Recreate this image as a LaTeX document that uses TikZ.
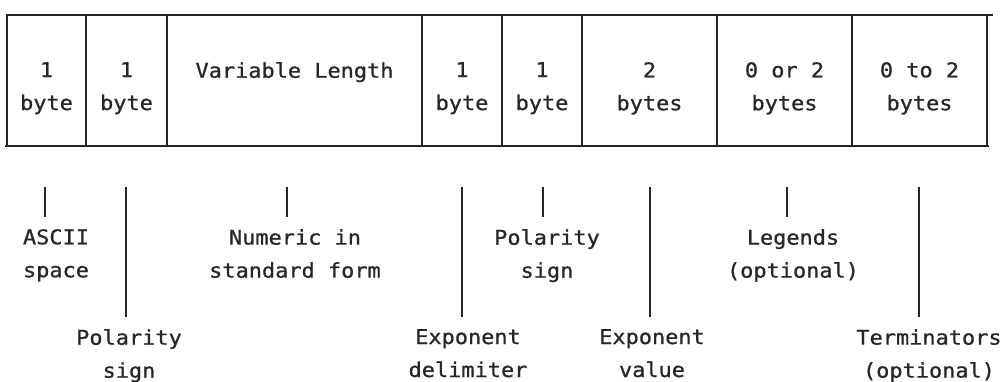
\documentclass[tikz,border=0pt]{standalone}
\usepackage{fontspec}
\newfontfamily\printfont[FakeStretch=1.08,FakeBold=0.8]{DejaVu Sans Mono}
\usetikzlibrary{positioning,calc}
\begin{document}
\begin{tikzpicture}[
  x=1pt, y=-1pt,
  font=\printfont\fontsize{20.3}{33}\selectfont,
  cell/.style={draw=black!85, line width=1.4pt, minimum height=131pt, inner sep=0pt, outer sep=0pt},
  rule/.style={line width=2.4pt, draw=black!85},
  tick/.style={line width=1.6pt, draw=black!85},
  field/.style={align=center, inner sep=0pt, anchor=north, text=black!85},
  note/.style={align=center, inner xsep=0pt, inner ysep=12pt, anchor=north, text=black!85}
]
  \useasboundingbox (0,0) rectangle (1005,381);

  \node[cell, minimum width=79pt, anchor=north west] (c1) at (7,15) {};
  \node[cell, minimum width=81pt, right=0pt of c1] (c2) {};
  \node[cell, minimum width=255pt, right=0pt of c2] (c3) {};
  \node[cell, minimum width=80pt, right=0pt of c3] (c4) {};
  \node[cell, minimum width=80pt, right=0pt of c4] (c5) {};
  \node[cell, minimum width=135pt, right=0pt of c5] (c6) {};
  \node[cell, minimum width=135pt, right=0pt of c6] (c7) {};
  \node[cell, minimum width=135pt, right=0pt of c7] (c8) {};

  \draw[rule] (c1.north west) -- ($(c8.north east)+(6,0)$);
  \draw[rule] ($(c1.south west)+(-2,0)$) -- ($(c8.south east)+(2,0)$);

  \node[field] (f1) at ($(c1.north)+(0,47)$) {1\\byte};
  \node[field] (f2) at ($(c2.north)+(0,47)$) {1\\byte};
  \node[field] (f3) at ($(c3.north)+(0,47)$) {Variable Length};
  \node[field] (f4) at ($(c4.north)+(0,47)$) {1\\byte};
  \node[field] (f5) at ($(c5.north)+(0,47)$) {1\\byte};
  \node[field] (f6) at ($(c6.north)+(0,47)$) {2\\bytes};
  \node[field] (f7) at ($(c7.north)+(0,47)$) {0 or 2\\bytes};
  \node[field] (f8) at ($(c8.north)+(0,47)$) {0 to 2\\bytes};

  \coordinate (k1) at (45,187);
  \coordinate (k2) at (126,187);
  \coordinate (k3) at (287,187);
  \coordinate (k4) at (462,187);
  \coordinate (k5) at (543,187);
  \coordinate (k6) at (650,187);
  \coordinate (k7) at (787,187);
  \coordinate (k8) at (919,187);

  \node[note] (space) at (56,217) {ASCII\\space};
  \node[note] (numeric) at (295,217) {Numeric in\\standard form};
  \node[note] (expsign) at (547,217) {Polarity\\sign};
  \node[note] (legends) at (793,217) {Legends\\(optional)};
  \node[note] (numsign) at (129,317) {Polarity\\sign};
  \node[note] (delim) at (468,317) {Exponent\\delimiter};
  \node[note] (expval) at (652,317) {Exponent\\value};
  \node[note] (term) at (929,317) {Terminators\\(optional)};

  \draw[tick] (k1) -- (k1 |- space.north);
  \draw[tick] (k2) -- (k2 |- numsign.north);
  \draw[tick] (k3) -- (k3 |- numeric.north);
  \draw[tick] (k4) -- (k4 |- delim.north);
  \draw[tick] (k5) -- (k5 |- expsign.north);
  \draw[tick] (k6) -- (k6 |- expval.north);
  \draw[tick] (k7) -- (k7 |- legends.north);
  \draw[tick] (k8) -- (k8 |- term.north);
\end{tikzpicture}
\end{document}
